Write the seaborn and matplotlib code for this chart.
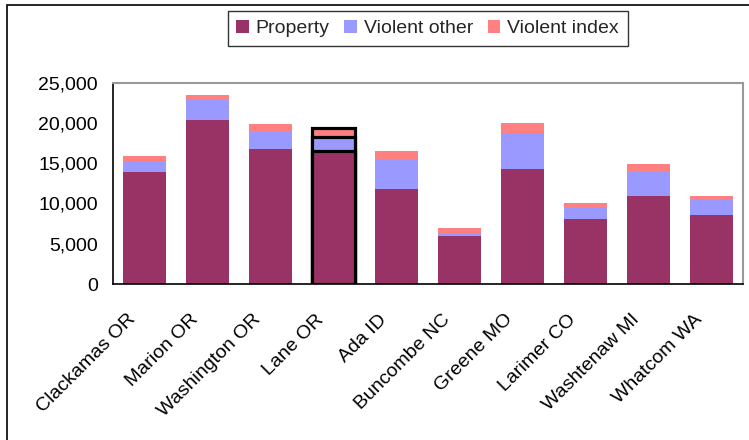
import matplotlib
matplotlib.use("Agg")
from matplotlib import pyplot as plt
from matplotlib.patches import Rectangle
from matplotlib.transforms import ScaledTranslation
import seaborn as sns
import pandas as pd

# values
counties = ['Clackamas OR', 'Marion OR', 'Washington OR', 'Lane OR', 'Ada ID',
            'Buncombe NC', 'Greene MO', 'Larimer CO', 'Washtenaw MI', 'Whatcom WA']
prop = [13900, 20350, 16750, 16550, 11800, 6000, 14300, 8050, 10950, 8550]
violent_other = [1380, 2630, 2250, 1750, 3720, 330, 4450, 1430, 3000, 1920]
violent_index = [620, 530, 870, 1030, 1040, 620, 1250, 580, 950, 460]
highlight = 'Lane OR'

colors = {'Property': '#993366', 'Violent other': '#9999FF', 'Violent index': '#FF8080'}

df = pd.DataFrame({'county': counties, 'Property': prop,
                   'Violent other': violent_other, 'Violent index': violent_index})
df['lvl2'] = df['Property'] + df['Violent other']
df['lvl3'] = df['lvl2'] + df['Violent index']

sns.set_style('white')
plt.rcParams['font.family'] = ['Liberation Sans', 'DejaVu Sans']
fs = 14

fig = plt.figure(figsize=(7.49, 4.40), dpi=100)
ax = fig.add_axes([0.1509, 0.3545, 0.8411, 0.4575])

# stacked look: draw cumulative totals back to front
for col, name in [('lvl3', 'Violent index'), ('lvl2', 'Violent other'), ('Property', 'Property')]:
    sns.barplot(data=df, x='county', y=col, color=colors[name], width=0.68,
                saturation=1, ax=ax, label=name, edgecolor='none')

# black outline on the highlighted county
hi = counties.index(highlight)
n = len(counties)
for i, p in enumerate(ax.patches):
    if i % n == hi:
        p.set_edgecolor('black')
        p.set_linewidth(2.3)

ax.set_ylim(0, 25000)
ax.set_xlim(-0.5, n - 0.5)
ax.set_yticks(range(0, 25001, 5000))
ax.set_yticklabels([f'{v:,}' for v in range(0, 25001, 5000)])
ax.set_xlabel('')
ax.set_ylabel('')
ax.set_xticks(range(n))
ax.set_xticklabels(counties, rotation=45, ha='right', va='center', rotation_mode='anchor')
ax.set_xticks([i - 0.5 for i in range(n + 1)], minor=True)
ax.tick_params(axis='x', which='major', length=0, pad=0)
ax.tick_params(axis='x', which='minor', length=6, width=1, direction='out', color='black')
ax.tick_params(axis='y', length=5, width=1, direction='out', color='black', pad=6)
ax.tick_params(labelsize=fs, labelcolor='black')
shift = ScaledTranslation(-12 / 100, -33 / 100, fig.dpi_scale_trans)
for lab in ax.get_xticklabels():
    lab.set_transform(lab.get_transform() + shift)

for s in ['left', 'bottom']:
    ax.spines[s].set_color('black')
    ax.spines[s].set_linewidth(1.2)
for s in ['top', 'right']:
    ax.spines[s].set_color('#999999')
    ax.spines[s].set_linewidth(1.5)

handles, labels = ax.get_legend_handles_labels()
order = [labels.index(k) for k in ['Property', 'Violent other', 'Violent index']]
leg = fig.legend([handles[i] for i in order], [labels[i] for i in order],
                 loc='center', bbox_to_anchor=(0.571, 0.935), ncol=3,
                 frameon=True, fancybox=False, edgecolor='black', fontsize=fs,
                 handlelength=0.65, handleheight=0.65, handletextpad=0.35,
                 columnspacing=0.75, borderpad=0.45)
leg.get_frame().set_linewidth(1.0)
if ax.get_legend() is not None:
    ax.get_legend().remove()

# chart area border (left and top visible)
fig.patches.append(Rectangle((7 / 749, -0.05), 1.1, 1 - 5 / 440 + 0.05,
                             transform=fig.transFigure, fill=False,
                             edgecolor='black', linewidth=1.2, clip_on=False))

fig.savefig('out.png', dpi=100)
